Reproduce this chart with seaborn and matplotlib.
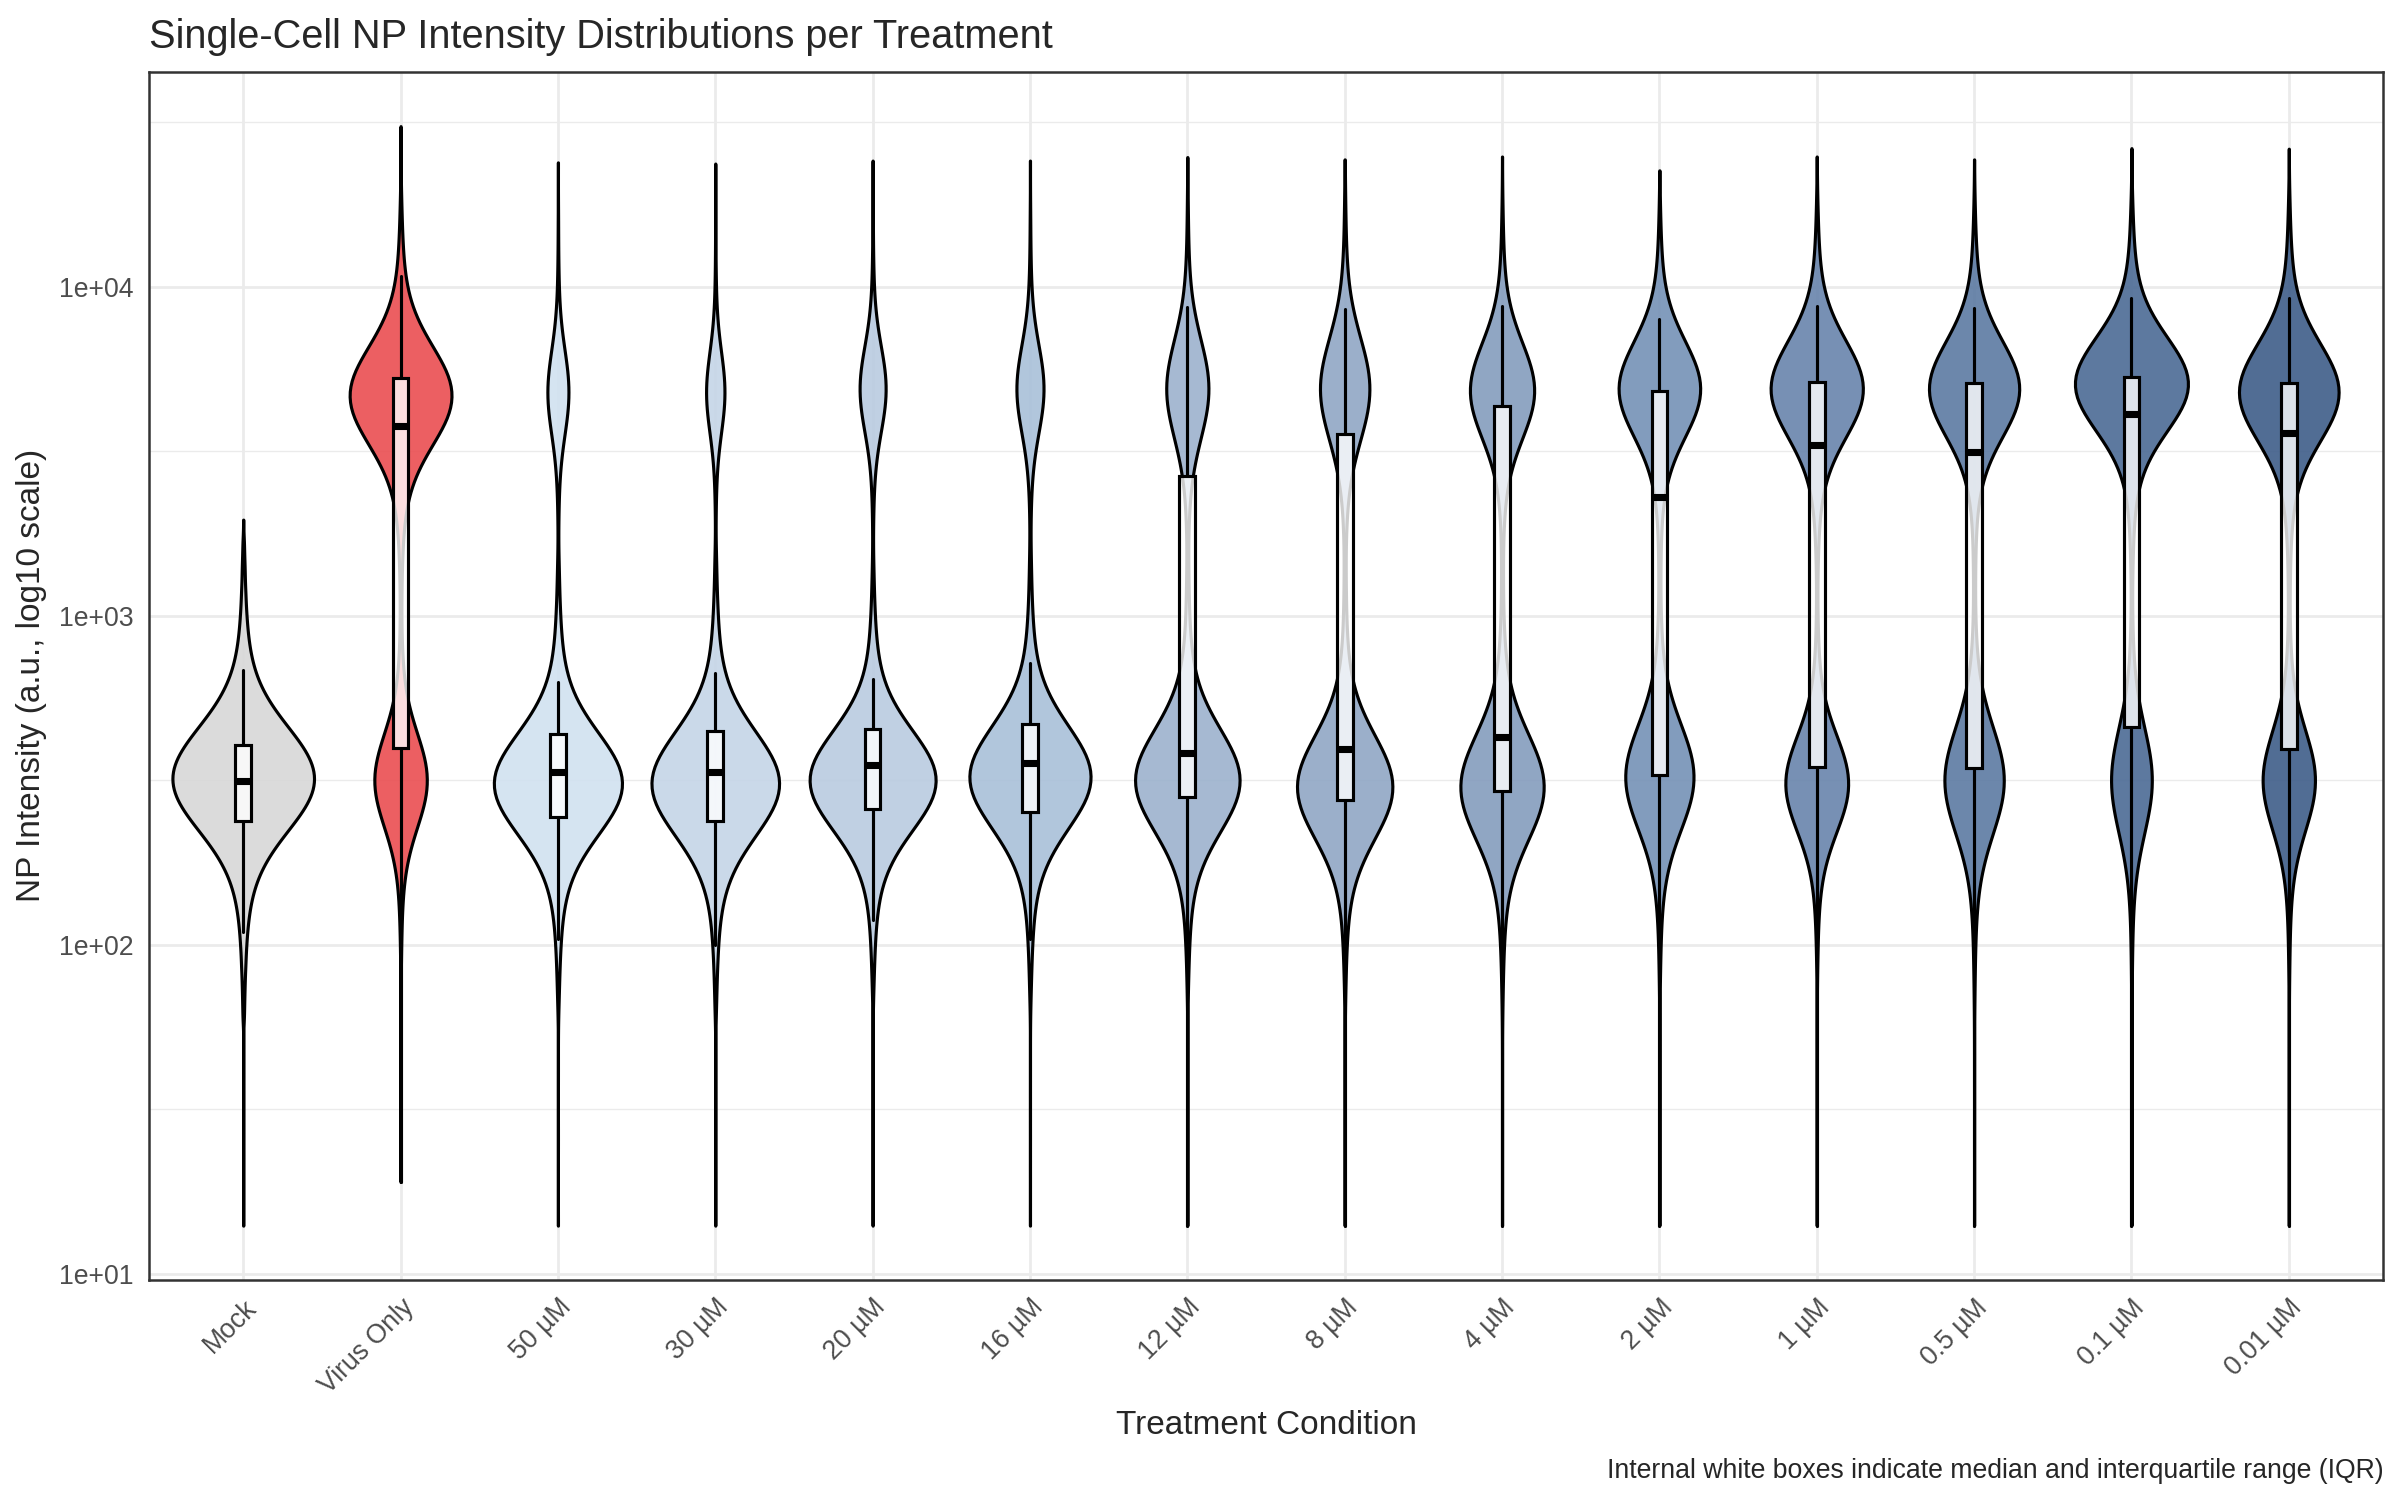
import numpy as np
import pandas as pd
import matplotlib
matplotlib.use("Agg")
import matplotlib.pyplot as plt
import seaborn as sns
from statistics import NormalDist

# treatments in plotting order
treatments = ["Mock", "Virus Only", "50 µM", "30 µM", "20 µM", "16 µM", "12 µM",
              "8 µM", "4 µM", "2 µM", "1 µM", "0.5 µM", "0.1 µM", "0.01 µM"]

# shape of each single-cell distribution (log10 intensity)
high_fraction = [0.0, 0.67, 0.12, 0.10, 0.15, 0.16, 0.28, 0.34, 0.41, 0.52, 0.595, 0.575, 0.71, 0.65]
low_center = [2.505, 2.50, 2.49, 2.49, 2.50, 2.51, 2.50, 2.48, 2.48, 2.51, 2.49, 2.50, 2.50, 2.50]
low_spread = [0.152, 0.122, 0.142, 0.147, 0.138, 0.142, 0.137, 0.136, 0.139, 0.138, 0.124, 0.141, 0.142, 0.131]
high_center = [None, 3.67, 3.68, 3.68, 3.69, 3.69, 3.69, 3.69, 3.685, 3.69, 3.69, 3.69, 3.705, 3.68]
high_spread = [None, 0.129, 0.115, 0.11, 0.115, 0.118, 0.131, 0.135, 0.122, 0.122, 0.124, 0.122, 0.122, 0.127]

# a few extreme cells per treatment (a.u.)
tail_low = [[14, 26, 42, 58], [19, 31, 46, 60], [14, 26, 42, 58], [14, 26, 42, 58],
            [14, 26, 42, 58], [14, 26, 42, 58], [14, 26, 42, 58], [14, 26, 42, 58],
            [14, 26, 42, 58], [14, 26, 42, 58], [14, 26, 42, 58], [14, 26, 42, 58],
            [14, 26, 42, 58], [14, 26, 42, 58]]
tail_high = [[1400, 1960], [19000, 30800], [16500, 23900], [16500, 23700], [16500, 24200],
             [16500, 24200], [17000, 24800], [17000, 24400], [17000, 24900], [16000, 22600],
             [17000, 24900], [17000, 24400], [18000, 26400], [18000, 26300]]

# box summary (a.u.)
box_q1 = [237, 396, 244, 237, 259, 254, 282, 275, 294, 327, 347, 344, 459, 393]
box_median = [314, 3770, 336, 336, 351, 357, 382, 393, 428, 2300, 3310, 3140, 4120, 3600]
box_q3 = [404, 5280, 437, 446, 452, 470, 2660, 3570, 4350, 4810, 5120, 5100, 5320, 5090]
whisker_low = [109, 19, 104, 100, 119, 104, 14, 14, 14, 14, 14, 14, 14, 14]
whisker_high = [685, 10800, 627, 670, 641, 721, 8700, 8550, 8750, 7960, 8770, 8610, 9250, 9250]

colors = ["#D8D8D8", "#EA4E51", "#D1E1F0", "#C5D5E7", "#B9CBE0", "#A9C0D9", "#9CB2CD",
          "#90A7C5", "#849CBD", "#7591B6", "#6884AC", "#5C7AA2", "#4B6A95", "#3E5D89"]

n_cells = 6000
nd = NormalDist()


def mode_cells(center, spread, count):
    # each population: a tight core plus a wider shoulder (heavier tails)
    n_shoulder = int(round(0.25 * count))
    n_core = count - n_shoulder
    out = [center + spread * nd.inv_cdf((k + 0.5) / n_core) for k in range(n_core)]
    out += [center + 2.1 * spread * nd.inv_cdf(0.01 + 0.98 * (k + 0.5) / n_shoulder)
            for k in range(n_shoulder)]
    return out


rows = []
for i, name in enumerate(treatments):
    n_high = int(round(high_fraction[i] * n_cells))
    logs = mode_cells(low_center[i], low_spread[i], n_cells - n_high)
    if n_high:
        logs += mode_cells(high_center[i], high_spread[i], n_high)
    vals = list(10 ** np.array(logs)) + tail_low[i] + tail_high[i]
    rows += [(name, v) for v in vals]
df = pd.DataFrame(rows, columns=["treatment", "intensity"])

sns.set_style("white")
plt.rcParams["font.family"] = ["Liberation Sans", "DejaVu Sans"]

fig = plt.figure(figsize=(16, 10), dpi=150)
ax = fig.add_axes([0.062, 0.147, 0.931, 0.805])

sns.violinplot(data=df, x="treatment", y="intensity", hue="treatment",
               order=treatments, hue_order=treatments,
               palette=dict(zip(treatments, colors)), legend=False,
               log_scale=True, cut=0, width=0.9, density_norm="area", common_norm=True,
               inner=None, linewidth=1.5, linecolor="black", saturation=1,
               bw_adjust=0.65, gridsize=200, ax=ax)

for coll in ax.collections:
    fc = coll.get_facecolor()
    fc[:, 3] = 0.9
    coll.set_facecolor(fc)

stats = []
for i in range(len(treatments)):
    stats.append(dict(med=box_median[i], q1=box_q1[i], q3=box_q3[i],
                      whislo=whisker_low[i], whishi=whisker_high[i], fliers=[]))
ax.bxp(stats, positions=range(len(treatments)), widths=0.1, patch_artist=True,
       showfliers=False, showcaps=False, manage_ticks=False,
       boxprops=dict(facecolor=(1, 1, 1, 0.8), edgecolor="black", linewidth=1.5),
       medianprops=dict(color="black", linewidth=3.4, solid_capstyle="butt"),
       whiskerprops=dict(color="black", linewidth=1.5))

ax.set_ylim(9.6, 45000)
ax.set_xlim(-0.6, len(treatments) - 0.4)
ax.set_yticks([10, 100, 1000, 10000])
ax.set_yticklabels(["1e+01", "1e+02", "1e+03", "1e+04"])
ax.yaxis.set_minor_locator(matplotlib.ticker.FixedLocator([10 ** 1.5, 10 ** 2.5, 10 ** 3.5, 10 ** 4.5]))
ax.yaxis.set_minor_formatter(matplotlib.ticker.NullFormatter())
ax.tick_params(axis="y", which="minor", length=0)
ax.set_xticks(range(len(treatments)))
ax.set_xticklabels(treatments, rotation=45, ha="right", rotation_mode="anchor")

ax.grid(True, which="major", color="#EBEBEB", linewidth=1.3)
ax.grid(True, which="minor", axis="y", color="#EBEBEB", linewidth=0.65)
ax.set_axisbelow(True)
for s in ax.spines.values():
    s.set_color("#333333")
    s.set_linewidth(1.2)
ax.tick_params(axis="both", which="major", length=4, width=1.2, color="#333333",
               labelcolor="#4D4D4D", labelsize=12.8, pad=3.2)

ax.set_xlabel("Treatment Condition", fontsize=16)
ax.set_ylabel("NP Intensity (a.u., log10 scale)", fontsize=16, labelpad=6)
ax.xaxis.set_label_coords(0.5, -0.108)
fig.text(0.062, 0.968, "Single-Cell NP Intensity Distributions per Treatment",
         fontsize=19.1, ha="left", va="baseline")
fig.text(0.993, 0.015, "Internal white boxes indicate median and interquartile range (IQR)",
         fontsize=12.8, ha="right", va="baseline")

fig.savefig("out.png", dpi=150)
